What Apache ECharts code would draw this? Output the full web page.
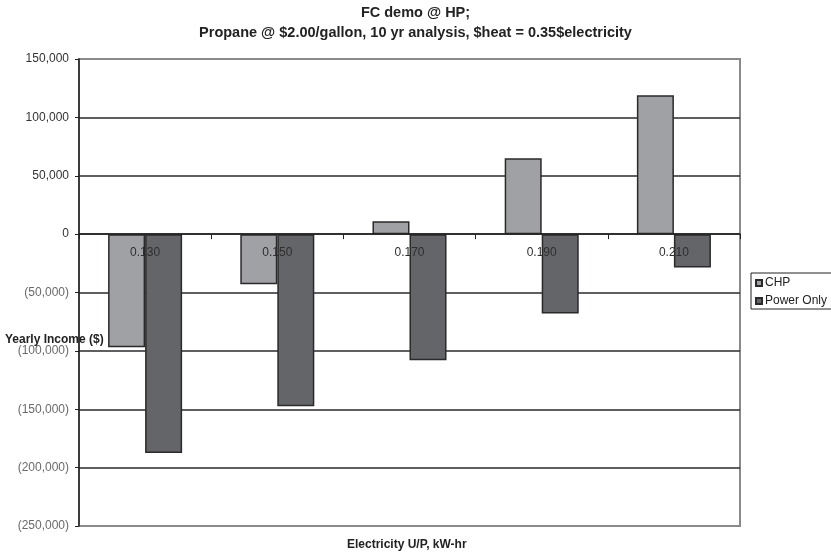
<!DOCTYPE html>
<html>
<head>
<meta charset="utf-8">
<script src="https://cdn.jsdelivr.net/npm/echarts@6/dist/echarts.min.js"></script>
<style>
  html, body { margin: 0; padding: 0; background: #fff; }
  #chart { width: 831px; height: 554px; }
</style>
</head>
<body>
<div id="chart"></div>
<script>
// Electricity price points (U/P, $/kW-hr)
const categories = ['0.130', '0.150', '0.170', '0.190', '0.210'];
// Yearly income ($) for each configuration
const chpValues = [-97000, -43000, 11000, 65000, 119000];
const powerOnlyValues = [-187500, -147500, -108000, -68000, -28500];
// Value axis range
const yMin = -250000;
const yMax = 150000;
const yStep = 50000;

const FONT = '"Liberation Sans", Arial, sans-serif';
const GRID_TOP = 59;
const GRID_BOTTOM = 28;
const CHART_H = 554;

function fmtMoney(v) {
  const s = Math.abs(v).toLocaleString('en-US');
  return v < 0 ? '{neg|(' + s + ')}' : '{pos|' + s + '}';
}

const nLines = Math.round((yMax - yMin) / yStep) + 1;
const splitColors = [];
for (let i = 0; i < nLines; i++) {
  splitColors.push(i === 0 || i === nLines - 1 ? 'rgba(0,0,0,0)' : '#2a2a2a');
}

// the category axis sits on the zero line (lifted up from the grid bottom)
const plotH = CHART_H - GRID_TOP - GRID_BOTTOM;
const zeroLift = plotH * (0 - yMin) / (yMax - yMin);

const chart = echarts.init(document.getElementById('chart'), null, { renderer: 'canvas' });
chart.setOption({
  backgroundColor: '#ffffff',
  animation: false,
  textStyle: { fontFamily: FONT },
  title: {
    text: 'FC demo @ HP;\nPropane @ $2.00/gallon, 10 yr analysis, $heat = 0.35$electricity',
    left: 'center',
    top: -2,
    textStyle: { fontFamily: FONT, fontSize: 14.5, fontWeight: 'bold', color: '#222', lineHeight: 20 }
  },
  grid: {
    left: 79, right: 91, top: GRID_TOP, bottom: GRID_BOTTOM,
    containLabel: false,
    outerBoundsMode: 'none',
    show: true, borderColor: '#8a8a8a', borderWidth: 2, backgroundColor: 'transparent'
  },
  legend: {
    orient: 'vertical',
    left: 751, top: 273,
    data: ['CHP', 'Power Only'],
    icon: 'rect',
    itemWidth: 6, itemHeight: 6, itemGap: 6,
    padding: [4, 20, 2, 4],
    borderColor: '#222', borderWidth: 1, backgroundColor: '#fff',
    textStyle: { fontFamily: FONT, fontSize: 12, color: '#222', padding: [0, 0, 0, -2] }
  },
  xAxis: {
    type: 'category',
    data: categories,
    z: 10,
    offset: -zeroLift,
    axisLine: { onZero: false, lineStyle: { color: '#222', width: 1.5 } },
    axisTick: { show: true, length: 5, lineStyle: { color: '#222' } },
    axisLabel: { fontFamily: FONT, fontSize: 12, color: '#2e2e2e', margin: 13 },
    splitLine: { show: false }
  },
  yAxis: {
    type: 'value',
    min: yMin, max: yMax, interval: yStep,
    axisLine: { show: true, lineStyle: { color: '#222', width: 1.5 } },
    axisTick: { show: true, length: 4, lineStyle: { color: '#222' } },
    axisLabel: {
      margin: 10,
      formatter: fmtMoney,
      rich: {
        pos: { fontFamily: FONT, fontSize: 12, color: '#333' },
        neg: { fontFamily: FONT, fontSize: 12, color: '#6a6a6a' }
      }
    },
    splitLine: { show: true, lineStyle: { color: splitColors, width: 1.5 } }
  },
  series: [
    {
      name: 'CHP',
      type: 'bar',
      data: chpValues,
      barGap: '0%',
      barCategoryGap: '44%',
      itemStyle: { color: '#a0a1a5', borderColor: '#2a2a2a', borderWidth: 1.5 }
    },
    {
      name: 'Power Only',
      type: 'bar',
      data: powerOnlyValues,
      itemStyle: { color: '#646569', borderColor: '#2a2a2a', borderWidth: 1.5 }
    }
  ],
  graphic: [
    {
      type: 'text', left: 5, top: 334, z: 20,
      style: { text: 'Yearly Income ($)', font: 'bold 12px ' + FONT, fill: '#222' }
    },
    {
      type: 'text', left: 347, top: 539, z: 20,
      style: { text: 'Electricity U/P, kW-hr', font: 'bold 12px ' + FONT, fill: '#222' }
    }
  ]
});
</script>
</body>
</html>
